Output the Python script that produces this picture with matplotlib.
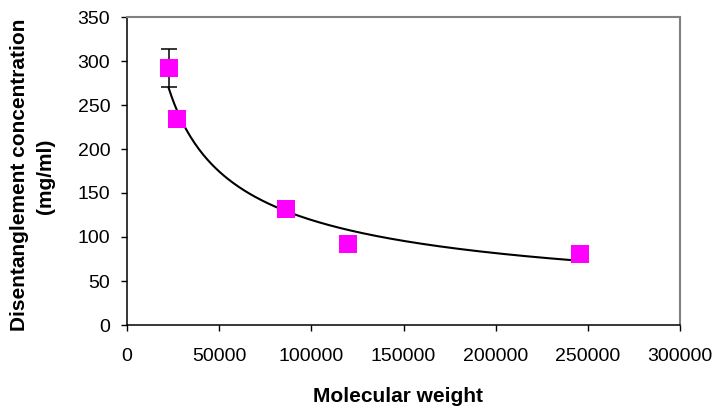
"""Disentanglement concentration vs molecular weight, with power-law trendline."""

import numpy as np
import matplotlib
matplotlib.use("Agg")
import matplotlib.pyplot as plt

# ---------------------------------------------------------------------------
# Data
# ---------------------------------------------------------------------------

mol_weight = [22600, 27000, 86000, 120000, 246000]
concentration = [292, 234, 132, 92, 81]
conc_err = [22, 0, 0, 0, 0]

x_ticks = [0, 50000, 100000, 150000, 200000, 250000, 300000]
y_ticks = [0, 50, 100, 150, 200, 250, 300, 350]

MARKER_COLOR = "#ff00ff"
BORDER_COLOR = "#808080"

plt.rcParams["font.family"] = ["Liberation Sans", "DejaVu Sans"]

# ---------------------------------------------------------------------------
# Power-law trendline (least squares in log-log, like Excel's power fit)
# ---------------------------------------------------------------------------

b, ln_a = np.polyfit(np.log(mol_weight), np.log(concentration), 1)
fit_x = np.linspace(min(mol_weight), max(mol_weight), 300)
fit_y = np.exp(ln_a) * fit_x ** b

# ---------------------------------------------------------------------------
# Plot
# ---------------------------------------------------------------------------

W, H = 716, 408
fig = plt.figure(figsize=(W / 100, H / 100), dpi=100)
ax = fig.add_axes([127 / W, 1 - 325 / H, (680 - 127) / W, (325 - 17) / H])

ax.plot(fit_x, fit_y, color="black", linewidth=1.5, zorder=2)

# error bar only on the first point
ax.errorbar(mol_weight[:1], concentration[:1], yerr=conc_err[:1], fmt="none",
            ecolor="black", elinewidth=1.1, capsize=5.5, capthick=1.1, zorder=3)

ax.plot(mol_weight, concentration, linestyle="none", marker="s",
        markersize=12.5, color=MARKER_COLOR, markeredgewidth=0, zorder=4)

ax.set_xlim(0, 300000)
ax.set_ylim(0, 350)
ax.set_xticks(x_ticks)
ax.set_yticks(y_ticks)
ax.set_xticklabels([str(v) for v in x_ticks])
ax.set_yticklabels([str(v) for v in y_ticks])
ax.tick_params(axis="both", direction="out", length=4.5, width=1.0,
               labelsize=14, color="black")
ax.tick_params(axis="x", pad=12)
ax.tick_params(axis="y", pad=7.5)

for side in ("left", "bottom"):
    ax.spines[side].set_color("black")
    ax.spines[side].set_linewidth(1.1)
for side in ("top", "right"):
    ax.spines[side].set_color(BORDER_COLOR)
    ax.spines[side].set_linewidth(1.5)

# axis titles, placed in pixels like the Excel original
fig.text(398 / W, 1 - 397 / H, "Molecular weight", fontsize=15,
         fontweight="bold", ha="center", va="center")
fig.text(20 / W, 1 - 175 / H, "Disentanglement concentration", fontsize=15,
         fontweight="bold", rotation=90, ha="center", va="center")
fig.text(46 / W, 1 - 176 / H, "(mg/ml)", fontsize=15,
         fontweight="bold", rotation=90, ha="center", va="center")

fig.savefig("out.png", dpi=100, facecolor="white")
